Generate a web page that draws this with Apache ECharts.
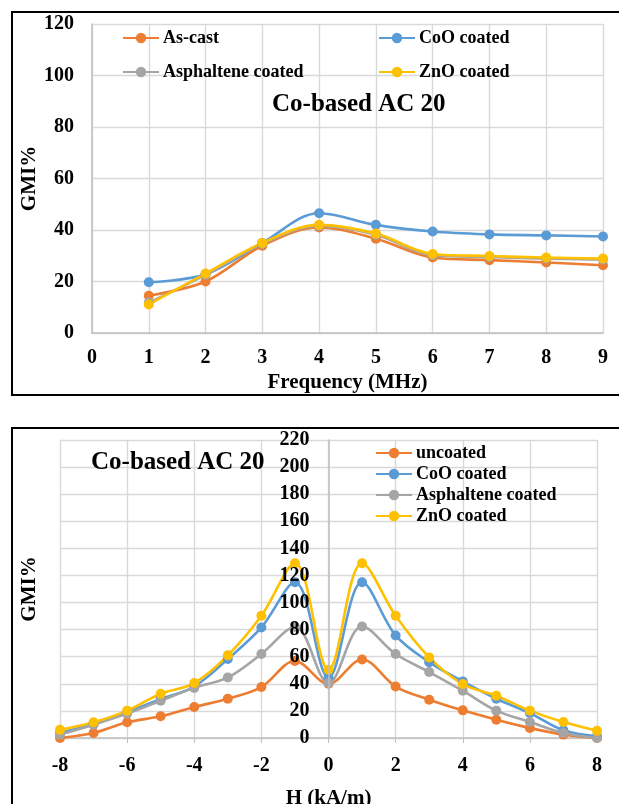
<!DOCTYPE html>
<html>
<head>
<meta charset="utf-8">
<script src="https://cdn.jsdelivr.net/npm/echarts@6/dist/echarts.min.js"></script>
<style>
  html, body { margin: 0; padding: 0; background: #fff; }
  #chart-freq { position: absolute; left: 0; top: 0; width: 619px; height: 412px; }
  #chart-field { position: absolute; left: 0; top: 410px; width: 619px; height: 394px; }
</style>
</head>
<body>
<div id="chart-freq"></div>
<div id="chart-field"></div>
<script>
// --- data: GMI% vs frequency ---
var freq = [1, 2, 3, 4, 5, 6, 7, 8, 9];
var freqAsCast = [14.5, 20, 33.9, 41, 36.6, 29.3, 28.3, 27.4, 26.3];
var freqCoO = [19.7, 22.8, 35, 46.5, 42, 39.4, 38.3, 37.9, 37.5];
var freqAsph = [11.8, 22.6, 34.6, 41.6, 38.2, 30.2, 29.5, 28.9, 28.5];
var freqZnO = [11.1, 23.1, 35, 42, 38.6, 30.7, 29.9, 29.3, 28.9];

// --- data: GMI% vs field ---
var field = [-8, -7, -6, -5, -4, -3, -2, -1, 0, 1, 2, 3, 4, 5, 6, 7, 8];
var fieldUncoated = [0, 3.7, 11.6, 16, 22.9, 29, 37.6, 56.8, 40, 58, 38, 28.3, 20.4, 13.5, 7.4, 2.5, 0];
var fieldCoO = [3.7, 10.6, 19, 28.8, 38, 58.3, 81.6, 115, 44.5, 115, 75.7, 56, 41.8, 29, 18.4, 5.7, 1.2];
var fieldAsph = [2.5, 9.8, 18, 27.5, 37, 44.7, 62, 82, 40.6, 82.3, 62, 48.7, 34.9, 20.2, 11.8, 3.7, 0];
var fieldZnO = [6.1, 11.6, 20.2, 32.7, 40.6, 61, 90.2, 129, 50.4, 129, 90.2, 59.5, 39.8, 31.2, 20.2, 11.8, 5.4];

var colors = { orange: '#ED7D31', blue: '#5B9BD5', gray: '#A5A5A5', gold: '#FFC000' };
var serif = 'Liberation Serif';
var gridColor = '#d9d9d9';
var axisColor = '#bfbfbf';

function pairs(xs, ys) {
  return xs.map(function(x, i) { return [x, ys[i]]; });
}

function lineSeries(name, color, xs, ys) {
  return {
    name: name,
    type: 'line',
    data: pairs(xs, ys),
    smooth: 0.35,
    symbol: 'circle',
    symbolSize: 10,
    lineStyle: { color: color, width: 2.6 },
    itemStyle: { color: color },
    emphasis: { disabled: true }
  };
}

var legendText = { fontFamily: serif, fontWeight: 'bold', fontSize: 18, color: '#000', padding: [0, 0, 0, -1] };

function legendAt(name, left, top) {
  return {
    data: [name],
    left: left,
    top: top,
    padding: 0,
    itemWidth: 36,
    itemHeight: 13,
    itemGap: 4,
    selectedMode: false,
    textStyle: legendText
  };
}

var tickText = { fontFamily: serif, fontWeight: 'bold', fontSize: 20, color: '#000' };
var nameText = { fontFamily: serif, fontWeight: 'bold', fontSize: 21, color: '#000' };
var titleText = { fontFamily: serif, fontWeight: 'bold', fontSize: 25, color: '#000' };

// --- Chart 1: frequency ---
var chartFreq = echarts.init(document.getElementById('chart-freq'));
chartFreq.setOption({
  animation: false,
  backgroundColor: '#fff',
  graphic: [{
    type: 'rect',
    shape: { x: 12, y: 12, width: 620, height: 383 },
    style: { fill: 'none', stroke: '#000', lineWidth: 2 },
    z: 10
  }],
  title: { text: 'Co-based AC 20', left: 272, top: 92, padding: 0, textStyle: titleText },
  legend: [
    legendAt('As-cast', 122, 29),
    legendAt('CoO coated', 378, 29),
    legendAt('Asphaltene coated', 122, 63),
    legendAt('ZnO coated', 378, 63)
  ],
  grid: { left: 92, right: 16, top: 24, bottom: 79, outerBoundsMode: 'none' },
  xAxis: {
    type: 'value',
    min: 0,
    max: 9,
    interval: 1,
    name: 'Frequency (MHz)',
    nameLocation: 'middle',
    nameGap: 39,
    nameMoveOverlap: false,
    nameTextStyle: nameText,
    axisLine: { lineStyle: { color: axisColor, width: 1.5 } },
    axisTick: { show: false },
    axisLabel: Object.assign({ margin: 15 }, tickText),
    splitLine: { show: true, lineStyle: { color: gridColor, width: 1.4 } }
  },
  yAxis: {
    type: 'value',
    min: 0,
    max: 120,
    interval: 20,
    name: 'GMI%',
    nameLocation: 'middle',
    nameGap: 52,
    nameMoveOverlap: false,
    nameTextStyle: nameText,
    axisLine: { show: true, lineStyle: { color: axisColor, width: 1.5 } },
    axisTick: { show: false },
    axisLabel: Object.assign({ margin: 18 }, tickText),
    splitLine: { show: true, lineStyle: { color: gridColor, width: 1.4 } }
  },
  series: [
    lineSeries('As-cast', colors.orange, freq, freqAsCast),
    lineSeries('CoO coated', colors.blue, freq, freqCoO),
    lineSeries('Asphaltene coated', colors.gray, freq, freqAsph),
    lineSeries('ZnO coated', colors.gold, freq, freqZnO)
  ]
});

// --- Chart 2: field ---
var fieldGridLeft = 60;
var chartField = echarts.init(document.getElementById('chart-field'));
chartField.setOption({
  animation: false,
  backgroundColor: '#fff',
  graphic: [{
    type: 'rect',
    shape: { x: 12, y: 18, width: 620, height: 420 },
    style: { fill: 'none', stroke: '#000', lineWidth: 2 },
    z: 10
  }],
  title: { text: 'Co-based AC 20', left: 91, top: 40, padding: 0, textStyle: titleText },
  legend: {
    data: ['uncoated', 'CoO coated', 'Asphaltene coated', 'ZnO coated'],
    orient: 'vertical',
    left: 375,
    top: 34,
    padding: 0,
    itemWidth: 36,
    itemHeight: 13,
    itemGap: 3,
    selectedMode: false,
    textStyle: legendText
  },
  grid: { left: fieldGridLeft, right: 22, top: 30, bottom: 66, outerBoundsMode: 'none' },
  xAxis: {
    type: 'value',
    min: -8,
    max: 8,
    interval: 2,
    name: 'H (kA/m)',
    nameLocation: 'middle',
    nameGap: 50,
    nameMoveOverlap: false,
    nameTextStyle: nameText,
    axisLine: { lineStyle: { color: axisColor, width: 1.5 } },
    axisTick: { show: true, length: 5, lineStyle: { color: axisColor } },
    axisLabel: Object.assign({ margin: 18 }, tickText),
    splitLine: { show: true, lineStyle: { color: gridColor, width: 1.4 } }
  },
  yAxis: [{
    // grid lines only, drawn under the series
    type: 'value',
    min: 0,
    max: 220,
    interval: 20,
    axisLine: { show: false },
    axisTick: { show: false },
    axisLabel: { show: false },
    splitLine: { show: true, lineStyle: { color: gridColor, width: 1.4 } }
  }, {
    // axis line and labels at H = 0, drawn above the series
    type: 'value',
    position: 'left',
    min: 0,
    max: 220,
    interval: 20,
    z: 5,
    name: 'GMI%',
    nameLocation: 'middle',
    nameMoveOverlap: false,
    nameTextStyle: nameText,
    axisLine: { show: true, onZero: false, lineStyle: { color: axisColor, width: 1.5 } },
    axisTick: { show: false },
    axisLabel: Object.assign({ margin: 19 }, tickText),
    splitLine: { show: false }
  }],
  series: [
    lineSeries('uncoated', colors.orange, field, fieldUncoated),
    lineSeries('CoO coated', colors.blue, field, fieldCoO),
    lineSeries('Asphaltene coated', colors.gray, field, fieldAsph),
    lineSeries('ZnO coated', colors.gold, field, fieldZnO)
  ]
});

// move the labelled y axis to H = 0 using the x scale
var zeroX = chartField.convertToPixel({ xAxisIndex: 0 }, 0);
var shift = zeroX - fieldGridLeft;
chartField.setOption({
  yAxis: [{}, { offset: -shift, nameGap: shift + 20 }]
});

window.addEventListener('resize', function() {
  chartFreq.resize();
  chartField.resize();
});
</script>
</body>
</html>
